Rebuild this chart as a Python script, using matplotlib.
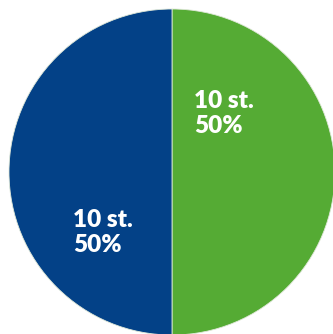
import matplotlib
matplotlib.use('Agg')
import matplotlib.pyplot as plt

# slices, clockwise from the top
counts = [10, 10]
colors = ['#55ab34', '#034187']
unit = 'st.'

total = sum(counts)
percents = [100 * c / total for c in counts]

fig = plt.figure(figsize=(3.33, 3.34), dpi=100)
ax = fig.add_axes([0, 0, 1, 1])

wedges, _ = ax.pie(counts, colors=colors, startangle=90, counterclock=False,
                   center=(172, 162), radius=163, frame=True,
                   wedgeprops=dict(linewidth=0.6, edgecolor='#dfe8d8'))
ax.set_xlim(0, 333)
ax.set_ylim(0, 334)
ax.set_aspect('equal')
ax.axis('off')

# anchors of the last line's baseline (pixel coords, y up)
label_pos = [(194, 201), (73, 82)]
for (x, y), c, p in zip(label_pos, counts, percents):
    ax.text(x, y, '{0} {1}\n{2:.0f}%'.format(c, unit, p), color='white',
            fontsize=17.5, fontweight='heavy', family='Lato',
            ha='left', va='baseline', linespacing=1.15)

fig.savefig('out.png', dpi=100)
